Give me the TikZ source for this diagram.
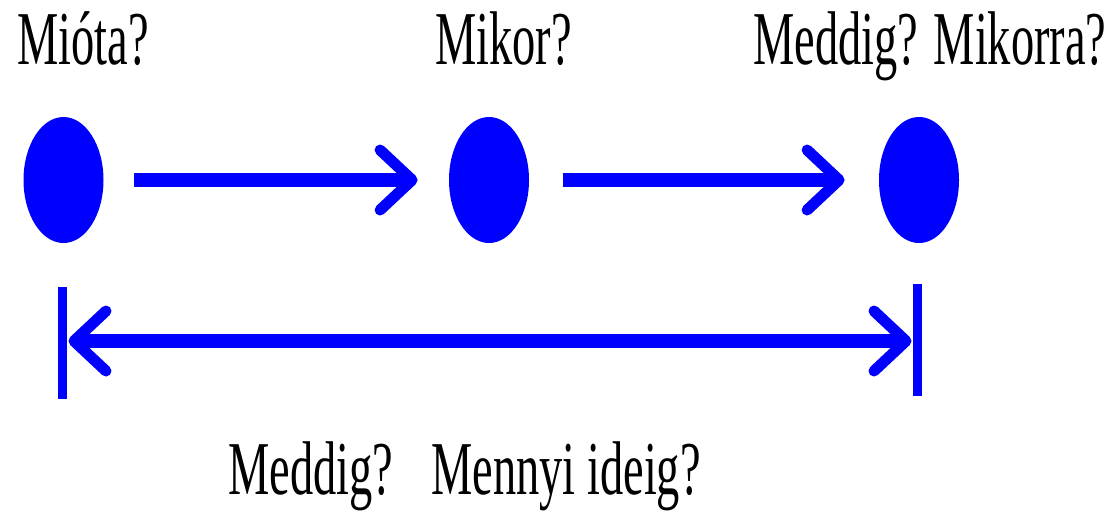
\documentclass[tikz,border=0pt]{standalone}
\usepackage{fontspec}
\setmainfont{Liberation Serif}
\usetikzlibrary{arrows.meta}
\definecolor{pblue}{RGB}{0,0,255}
\tikzset{
  dot/.style={ellipse, fill=pblue, draw=none, minimum width=40pt, minimum height=63pt, inner sep=0pt},
  lbl/.style={inner sep=0pt, anchor=base west, font=\fontsize{23.2}{23.2}\selectfont},
  conn/.style={draw=pblue, line width=7pt, -{Straight Barb[length=16pt, width=30pt, line width=5.5pt, round]}},
  dconn/.style={draw=pblue, line width=7pt, {Straight Barb[length=16pt, width=30pt, line width=5.5pt, round]}-{Straight Barb[length=16pt, width=30pt, line width=5.5pt, round]}},
  bar/.style={draw=pblue, line width=4.5pt}
}
\usetikzlibrary{shapes.geometric}
\newcommand{\tall}[1]{\scalebox{1}[1.64]{#1}}
\begin{document}
\begin{tikzpicture}[x=0.5pt, y=-0.5pt]
\useasboundingbox (0,0) rectangle (1118,511);
% texts
\node[lbl] (t1) at (17,64) {\tall{Mióta?}};
\node[lbl] (t2) at (435,64) {\tall{Mikor?}};
\node[lbl] (t3) at (753,64) {\tall{Meddig? Mikorra?}};
\node[lbl] (t4) at (228,494) {\tall{Meddig?}};
\node[lbl] (t5) at (431,494) {\tall{Mennyi ideig?}};
% dots
\node[dot] (e1) at (63.5,180) {};
\node[dot] (e2) at (489,180) {};
\node[dot] (e3) at (919,180) {};
% arrows
\draw[conn, shorten <=15pt, shorten >=15.5pt] (e1) -- (e2);
\draw[conn, shorten <=17pt, shorten >=17pt] (e2) -- (e3);
% bars
\coordinate (b1t) at (62.5,287);
\coordinate (b1b) at (62.5,399);
\coordinate (b2t) at (917.5,284);
\coordinate (b2b) at (917.5,396);
\draw[bar] (b1t) -- (b1b);
\draw[bar] (b2t) -- (b2b);
\coordinate (L) at (62.5,341);
\coordinate (R) at (917.5,341);
\draw[dconn, shorten <=3pt, shorten >=3pt] (L) -- (R);
\end{tikzpicture}
\end{document}
